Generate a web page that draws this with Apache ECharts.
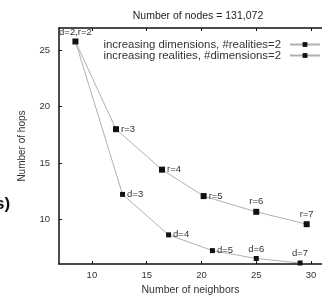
<!DOCTYPE html>
<html>
<head>
<meta charset="utf-8">
<script src="https://cdn.jsdelivr.net/npm/echarts@6/dist/echarts.min.js"></script>
<style>
  html, body { margin: 0; padding: 0; background: #fff; }
  #chart { width: 322px; height: 301px; }
</style>
</head>
<body>
<div id="chart"></div>
<script>
// increasing dimensions, #realities=2
const neighborsDim = [8.5, 12.8, 17, 21, 25, 29]
const hopsDim = [25.8, 12.2, 8.6, 7.2, 6.5, 6.1]
const labelsDim = ['d=2,r=2', 'd=3', 'd=4', 'd=5', 'd=6', 'd=7']

// increasing realities, #dimensions=2
const neighborsReal = [8.5, 12.2, 16.4, 20.2, 25, 29.6]
const hopsReal = [25.8, 18, 14.4, 12.05, 10.65, 9.55]
const labelsReal = ['', 'r=3', 'r=4', 'r=5', 'r=6', 'r=7']

const xTicks = [10, 15, 20, 25, 30]
const yTicks = [10, 15, 20, 25]

const font = 'Liberation Sans, Arial, sans-serif'
const posDim = ['top', 'right', 'right', 'right', 'top', 'top']
const posReal = ['top', 'right', 'right', 'right', 'top', 'top']

function points (xs, ys, labels, pos) {
  return xs.map((x, i) => ({
    value: [x, ys[i]],
    label: {
      show: labels[i] !== '',
      formatter: labels[i],
      position: pos[i],
      distance: 2
    }
  }))
}

let chart = echarts.init(document.getElementById('chart'))
let option = {
  animation: false,
  title: {
    text: 'Number of nodes = 131,072',
    left: 193,
    textAlign: 'center',
    top: 6,
    textStyle: { fontFamily: font, fontSize: 10.5, fontWeight: 'normal', color: '#222' }
  },
  graphic: [{
    type: 'text',
    left: -5,
    top: 196,
    style: { text: 's)', font: 'bold 17px ' + font, fill: '#111' }
  }],
  legend: {
    orient: 'vertical',
    right: -4,
    top: 34,
    align: 'right',
    itemGap: 0,
    itemWidth: 30,
    itemHeight: 6,
    textStyle: { fontFamily: font, fontSize: 11.4, lineHeight: 10, color: '#333', padding: [0, 4, 0, 0] },
    data: ['increasing dimensions, #realities=2', 'increasing realities, #dimensions=2']
  },
  grid: { left: 59, top: 28, right: -5, bottom: 35 },
  xAxis: [{
    type: 'value',
    min: 7,
    max: 31,
    name: 'Number of neighbors',
    nameLocation: 'middle',
    nameGap: 19,
    nameTextStyle: { fontFamily: font, fontSize: 10.5, color: '#333' },
    axisLine: { lineStyle: { color: '#111', width: 1.5 } },
    axisTick: { inside: true, length: 3, customValues: xTicks, lineStyle: { color: '#111' } },
    axisLabel: { customValues: xTicks, fontFamily: font, fontSize: 9.5, color: '#333', margin: 6 },
    splitLine: { show: false }
  }, {
    type: 'value',
    position: 'top',
    min: 7,
    max: 31,
    axisLine: { show: true, lineStyle: { color: '#111', width: 1.5 } },
    axisTick: { inside: true, length: 3, customValues: xTicks, lineStyle: { color: '#111' } },
    axisLabel: { show: false },
    splitLine: { show: false }
  }],
  yAxis: {
    type: 'value',
    min: 6,
    max: 27,
    name: 'Number of hops',
    nameLocation: 'middle',
    nameGap: 32,
    nameTextStyle: { fontFamily: font, fontSize: 10, color: '#333' },
    axisLine: { show: true, lineStyle: { color: '#111', width: 1.5 } },
    axisTick: { show: true, inside: true, length: 3, customValues: yTicks, lineStyle: { color: '#111' } },
    axisLabel: { customValues: yTicks, fontFamily: font, fontSize: 9.5, color: '#333', margin: 9 },
    splitLine: { show: false }
  },
  series: [
    {
      name: 'increasing dimensions, #realities=2',
      type: 'line',
      symbol: 'rect',
      symbolSize: 5,
      itemStyle: { color: '#111' },
      lineStyle: { color: '#b0b0b0', width: 1 },
      label: { fontFamily: font, fontSize: 9.5, color: '#333' },
      data: points(neighborsDim, hopsDim, labelsDim, posDim)
    },
    {
      name: 'increasing realities, #dimensions=2',
      type: 'line',
      symbol: 'rect',
      symbolSize: 6,
      itemStyle: { color: '#111' },
      lineStyle: { color: '#b0b0b0', width: 1 },
      label: { fontFamily: font, fontSize: 9.5, color: '#333' },
      data: points(neighborsReal, hopsReal, labelsReal, posReal)
    }
  ]
}
chart.setOption(option)
</script>
</body>
</html>
